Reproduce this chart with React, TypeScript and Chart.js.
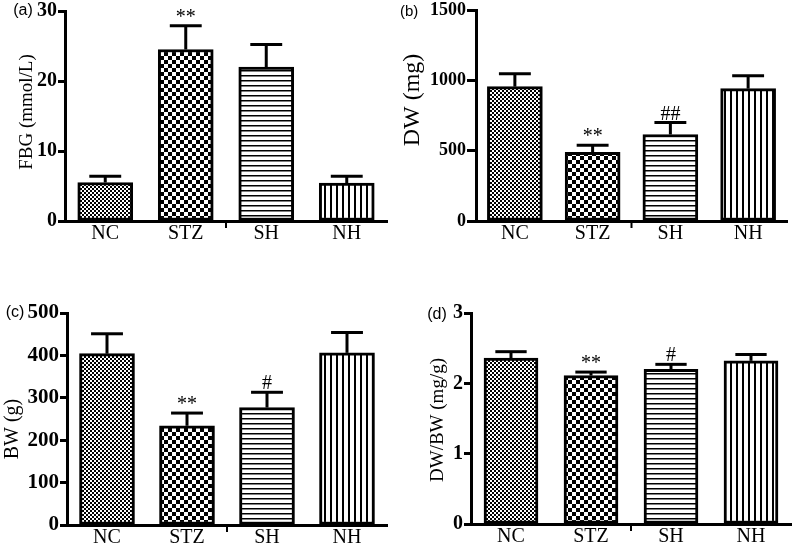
import React, { useEffect, useRef } from "react";
import { Chart, registerables } from "chart.js";

Chart.register(...registerables);

// ---- data ----
const categories = ["NC", "STZ", "SH", "NH"];

const fbgMeans = [5.5, 24.5, 22.0, 5.4];
const fbgErrs = [0.9, 3.4, 3.2, 1.0];
const fbgMarks = ["", "**", "", ""];

const dwMeans = [955, 488, 615, 941];
const dwErrs = [92, 50, 85, 92];
const dwMarks = ["", "**", "##", ""];

const bwMeans = [404, 234, 277, 406];
const bwErrs = [47, 30, 36, 48];
const bwMarks = ["", "**", "#", ""];

const ratioMeans = [2.36, 2.11, 2.2, 2.32];
const ratioErrs = [0.09, 0.05, 0.07, 0.09];
const ratioMarks = ["", "**", "#", ""];

const SERIF = "'Liberation Serif', 'Times New Roman', serif";
const SANS = "'Liberation Sans', Arial, sans-serif";

type PanelDef = {
  label: string;
  title: string;
  means: number[];
  errs: number[];
  marks: string[];
  yMax: number;
  yStep: number;
  left: number;
  top: number;
  w: number;
  h: number;
  yAxisX: number;
  chartTop: number;
  chartBottom: number;
  chartRight: number;
  barW: number;
  tickSize: number;
  tickLen: number;
  titleSize: number;
  titleX: number;
  titleY: number;
  labelSize: number;
  labelX: number;
  labelY: number;
  labelAlign: CanvasTextAlign;
};

const panels: PanelDef[] = [
  {
    label: "(a)", title: "FBG (mmol/L)", means: fbgMeans, errs: fbgErrs, marks: fbgMarks,
    yMax: 30, yStep: 10, left: 0, top: 0, w: 400, h: 268,
    yAxisX: 65, chartTop: 10, chartBottom: 221, chartRight: 387, barW: 55,
    tickSize: 20, tickLen: 7, titleSize: 19, titleX: 27, titleY: 112,
    labelSize: 16, labelX: 23, labelY: 11, labelAlign: "center",
  },
  {
    label: "(b)", title: "DW (mg)", means: dwMeans, errs: dwErrs, marks: dwMarks,
    yMax: 1500, yStep: 500, left: 400, top: 0, w: 400, h: 268,
    yAxisX: 76, chartTop: 9, chartBottom: 221, chartRight: 387, barW: 55,
    tickSize: 18, tickLen: 9, titleSize: 24, titleX: 13, titleY: 100,
    labelSize: 15, labelX: 0, labelY: 12, labelAlign: "left",
  },
  {
    label: "(c)", title: "BW (g)", means: bwMeans, errs: bwErrs, marks: bwMarks,
    yMax: 500, yStep: 100, left: 0, top: 268, w: 400, h: 280,
    yAxisX: 67, chartTop: 45, chartBottom: 257, chartRight: 387, barW: 55,
    tickSize: 21, tickLen: 7, titleSize: 20, titleX: 13, titleY: 161,
    labelSize: 16, labelX: 15, labelY: 45, labelAlign: "center",
  },
  {
    label: "(d)", title: "DW/BW (mg/g)", means: ratioMeans, errs: ratioErrs, marks: ratioMarks,
    yMax: 3, yStep: 1, left: 400, top: 268, w: 400, h: 280,
    yAxisX: 71, chartTop: 45, chartBottom: 256, chartRight: 391, barW: 54,
    tickSize: 20, tickLen: 7, titleSize: 19, titleX: 38, titleY: 152,
    labelSize: 16, labelX: 37, labelY: 47, labelAlign: "center",
  },
];

function makePattern(kind: string): CanvasPattern | string {
  const c = document.createElement("canvas");
  let size = 4;
  if (kind === "checker") size = 8;
  if (kind === "hlines") size = 5;
  if (kind === "vlines") size = 6;
  c.width = size;
  c.height = size;
  const g = c.getContext("2d");
  if (!g) return "#888";
  g.fillStyle = "#fff";
  g.fillRect(0, 0, size, size);
  g.fillStyle = "#000";
  if (kind === "fine") {
    g.fillRect(0, 0, 2, 2);
    g.fillRect(2, 2, 2, 2);
  } else if (kind === "checker") {
    g.fillRect(0, 0, 4, 4);
    g.fillRect(4, 4, 4, 4);
  } else if (kind === "hlines") {
    g.fillRect(0, 0, size, 1.5);
  } else if (kind === "vlines") {
    g.fillRect(0, 0, 2, size);
  }
  return g.createPattern(c, "repeat") || "#888";
}

const decorPlugin = {
  id: "decor",
  afterDatasetsDraw(chart: any, _args: any, opts: any) {
    const ctx: CanvasRenderingContext2D = chart.ctx;
    const xs = chart.scales.x;
    const ys = chart.scales.y;
    const meta = chart.getDatasetMeta(0);
    const p: PanelDef = opts.panel;
    ctx.save();
    ctx.strokeStyle = "#000";
    ctx.fillStyle = "#000";
    ctx.lineCap = "butt";
    p.means.forEach((m, i) => {
      const bar = meta.data[i];
      const px = bar.x;
      const yb = ys.getPixelForValue(m);
      const yt = ys.getPixelForValue(m + p.errs[i]);
      const half = (bar.width * 0.58) / 2;
      ctx.lineWidth = 3;
      ctx.beginPath();
      ctx.moveTo(px, yb);
      ctx.lineTo(px, yt);
      ctx.stroke();
      ctx.beginPath();
      ctx.moveTo(px - half, yt);
      ctx.lineTo(px + half, yt);
      ctx.stroke();
      if (p.marks[i]) {
        ctx.font = `20px ${SERIF}`;
        ctx.textAlign = "center";
        ctx.textBaseline = "alphabetic";
        ctx.fillText(p.marks[i], px, yt - 3);
      }
    });
    // small tick in the middle of the x axis
    const mx = (xs.getPixelForValue(1) + xs.getPixelForValue(2)) / 2;
    const bottom = chart.chartArea.bottom;
    ctx.lineWidth = 2;
    ctx.beginPath();
    ctx.moveTo(mx, bottom);
    ctx.lineTo(mx, bottom + 7);
    ctx.stroke();
    // panel label
    ctx.font = `${p.labelSize}px ${SANS}`;
    ctx.textAlign = p.labelAlign;
    ctx.textBaseline = "middle";
    ctx.fillText(p.label, p.labelX, p.labelY);
    // y axis title
    ctx.translate(p.titleX, p.titleY);
    ctx.rotate(-Math.PI / 2);
    ctx.font = `${p.titleSize}px ${SERIF}`;
    ctx.textAlign = "center";
    ctx.textBaseline = "middle";
    ctx.fillText(p.title, 0, 0);
    ctx.restore();
  },
};

function Panel({ p }: { p: PanelDef }) {
  const ref = useRef<HTMLCanvasElement | null>(null);
  useEffect(() => {
    if (!ref.current) return;
    const fills = [
      makePattern("fine"),
      makePattern("checker"),
      makePattern("hlines"),
      makePattern("vlines"),
    ];
    const chart = new Chart(ref.current, {
      type: "bar",
      data: {
        labels: categories,
        datasets: [
          {
            data: p.means,
            backgroundColor: fills as any,
            borderColor: "#000",
            borderWidth: 3,
            borderSkipped: false,
            barThickness: p.barW,
          },
        ],
      },
      options: {
        responsive: false,
        animation: false,
        devicePixelRatio: 1,
        layout: {
          padding: { top: p.chartTop, right: p.w - p.chartRight, left: 0, bottom: 0 },
        },
        plugins: {
          legend: { display: false },
          tooltip: { enabled: false },
          decor: { panel: p },
        } as any,
        scales: {
          x: {
            type: "category",
            offset: true,
            grid: { display: false, drawTicks: false },
            border: { display: true, color: "#000", width: 3, z: 1 } as any,
            ticks: {
              color: "#000",
              font: { family: SERIF, size: 20 },
              padding: 1,
              maxRotation: 0,
            },
            afterFit: (s: any) => {
              s.height = p.h - p.chartBottom;
            },
          },
          y: {
            min: 0,
            max: p.yMax,
            ticks: {
              stepSize: p.yStep,
              color: "#000",
              font: { family: SERIF, size: p.tickSize, weight: "bold", lineHeight: 1 },
              padding: 1,
              callback: (v: any) => String(v),
            },
            grid: {
              display: true,
              drawOnChartArea: false,
              drawTicks: true,
              tickLength: p.tickLen,
              tickWidth: 3,
              tickColor: "#000",
            },
            border: { display: true, color: "#000", width: 3, z: 1 } as any,
            afterFit: (s: any) => {
              s.width = p.yAxisX;
            },
          },
        },
      },
      plugins: [decorPlugin as any],
    });
    return () => chart.destroy();
  }, []);
  return (
    <canvas
      ref={ref}
      width={p.w}
      height={p.h}
      style={{ position: "absolute", left: p.left, top: p.top, width: p.w, height: p.h }}
    />
  );
}

export default function App() {
  return (
    <div
      style={{
        position: "fixed",
        left: 0,
        top: 0,
        width: 800,
        height: 548,
        background: "#fff",
        overflow: "hidden",
      }}
    >
      {panels.map((p) => (
        <Panel key={p.label} p={p} />
      ))}
    </div>
  );
}
